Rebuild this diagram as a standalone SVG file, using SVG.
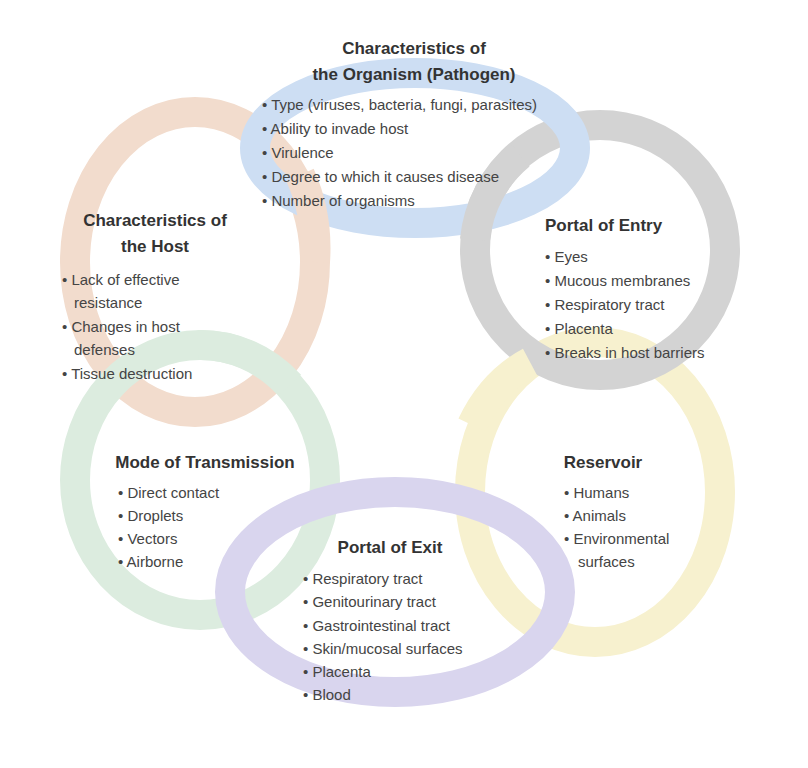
<svg xmlns="http://www.w3.org/2000/svg" width="808" height="768" viewBox="0 0 808 768">
<style>
.r{fill:none;stroke-width:30}
.t{font-family:"Liberation Sans",Arial,sans-serif;font-size:17px;font-weight:bold;fill:#333}
.b{font-family:"Liberation Sans",Arial,sans-serif;font-size:15px;fill:#444}
</style>
<rect width="808" height="768" fill="#fff"/>
<g id="rings">
<ellipse id="ring-peach" class="r" cx="195" cy="262" rx="120" ry="150" stroke="#f2dccd"/>
<ellipse id="ring-green" class="r" cx="200" cy="480" rx="125" ry="135" stroke="#dcecdf"/>
<ellipse id="ring-yellow" class="r" cx="595" cy="492" rx="125" ry="150" stroke="#f7f1cf"/>
<ellipse id="ring-purple" class="r" cx="395" cy="592" rx="165" ry="100" stroke="#d9d5ee"/>
<ellipse id="ring-gray" class="r" cx="600" cy="250" rx="125" ry="125" stroke="#d3d3d3"/>
<ellipse id="ring-blue" class="r" cx="415" cy="148" rx="160" ry="75" stroke="#cddef3"/>
<path d="M198,345 A125,135 0 0 1 290,385" class="r" stroke="#dcecdf"/>
<path d="M300,175 A120,150 0 0 1 315,262" class="r" stroke="#f2dccd"/>
<path d="M475,240 A125,125 0 0 1 520,155" class="r" stroke="#d3d3d3"/>
<path d="M472,425 A125,150 0 0 1 530,362" class="r" stroke="#f7f1cf"/>
</g>
<g id="node-pathogen">
<text class="t" x="414" y="54" text-anchor="middle">Characteristics of</text>
<text class="t" x="414" y="80" text-anchor="middle">the Organism (Pathogen)</text>
<text class="b" x="262" y="110">• Type (viruses, bacteria, fungi, parasites)</text>
<text class="b" x="262" y="134">• Ability to invade host</text>
<text class="b" x="262" y="158">• Virulence</text>
<text class="b" x="262" y="182">• Degree to which it causes disease</text>
<text class="b" x="262" y="206">• Number of organisms</text>
</g>
<g id="node-entry">
<text class="t" x="545" y="231">Portal of Entry</text>
<text class="b" x="545" y="262">• Eyes</text>
<text class="b" x="545" y="286">• Mucous membranes</text>
<text class="b" x="545" y="310">• Respiratory tract</text>
<text class="b" x="545" y="334">• Placenta</text>
<text class="b" x="545" y="358">• Breaks in host barriers</text>
</g>
<g id="node-host">
<text class="t" x="155" y="226" text-anchor="middle">Characteristics of</text>
<text class="t" x="155" y="252" text-anchor="middle">the Host</text>
<text class="b" x="62" y="285">• Lack of effective</text>
<text class="b" x="74" y="308">resistance</text>
<text class="b" x="62" y="332">• Changes in host</text>
<text class="b" x="74" y="355">defenses</text>
<text class="b" x="62" y="379">• Tissue destruction</text>
</g>
<g id="node-transmission">
<text class="t" x="205" y="468" text-anchor="middle">Mode of Transmission</text>
<text class="b" x="118" y="498">• Direct contact</text>
<text class="b" x="118" y="521">• Droplets</text>
<text class="b" x="118" y="544">• Vectors</text>
<text class="b" x="118" y="567">• Airborne</text>
</g>
<g id="node-reservoir">
<text class="t" x="603" y="468" text-anchor="middle">Reservoir</text>
<text class="b" x="564" y="498">• Humans</text>
<text class="b" x="564" y="521">• Animals</text>
<text class="b" x="564" y="544">• Environmental</text>
<text class="b" x="578" y="567">surfaces</text>
</g>
<g id="node-exit">
<text class="t" x="390" y="553" text-anchor="middle">Portal of Exit</text>
<text class="b" x="303" y="584">• Respiratory tract</text>
<text class="b" x="303" y="607">• Genitourinary tract</text>
<text class="b" x="303" y="631">• Gastrointestinal tract</text>
<text class="b" x="303" y="654">• Skin/mucosal surfaces</text>
<text class="b" x="303" y="677">• Placenta</text>
<text class="b" x="303" y="700">• Blood</text>
</g>
<g id="connectors"/>
</svg>
